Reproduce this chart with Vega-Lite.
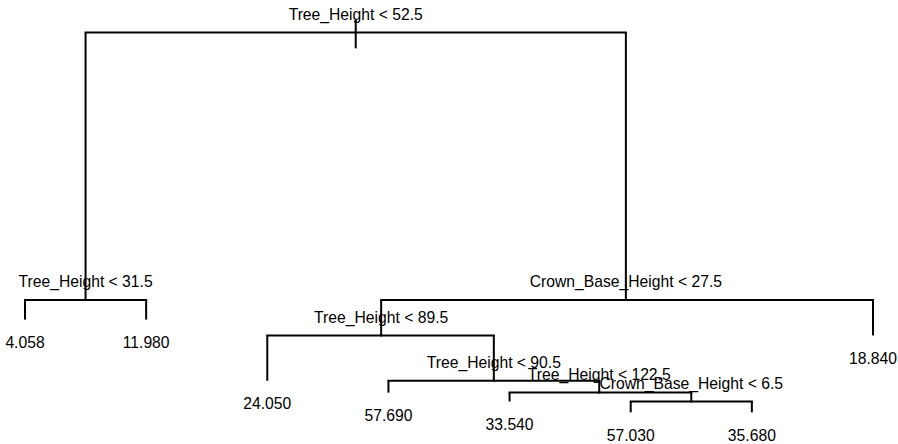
{
  "$schema": "https://vega.github.io/schema/vega-lite/v6.json",
  "width": 898,
  "height": 444,
  "padding": 0,
  "autosize": {"type": "fit", "contains": "padding"},
  "background": "white",
  "config": {"view": {"stroke": null}},
  "data": {"values": [
    {"node": "root", "kind": "split", "label": "Tree_Height < 52.5", "x": 3.73, "dev": 395, "px": 3.73, "pdev": 423, "level": 411},
    {"node": "n2", "kind": "split", "label": "Tree_Height < 31.5", "x": 1.5, "dev": 140, "px": 3.73, "pdev": 411, "level": 140},
    {"node": "n3", "kind": "split", "label": "Crown_Base_Height < 27.5", "x": 5.96, "dev": 140, "px": 3.73, "pdev": 411, "level": 140},
    {"node": "L1", "kind": "leaf", "label": "4.058", "x": 1, "dev": 120, "px": 1.5, "pdev": 140, "level": 120},
    {"node": "L2", "kind": "leaf", "label": "11.980", "x": 2, "dev": 120, "px": 1.5, "pdev": 140, "level": 120},
    {"node": "n6", "kind": "split", "label": "Tree_Height < 89.5", "x": 3.94, "dev": 104, "px": 5.96, "pdev": 140, "level": 104},
    {"node": "L8", "kind": "leaf", "label": "18.840", "x": 8, "dev": 104, "px": 5.96, "pdev": 140, "level": 104},
    {"node": "L3", "kind": "leaf", "label": "24.050", "x": 3, "dev": 58, "px": 3.94, "pdev": 104, "level": 58},
    {"node": "n13", "kind": "split", "label": "Tree_Height < 90.5", "x": 4.87, "dev": 58, "px": 3.94, "pdev": 104, "level": 58},
    {"node": "L4", "kind": "leaf", "label": "57.690", "x": 4, "dev": 46, "px": 4.87, "pdev": 58, "level": 46},
    {"node": "n27", "kind": "split", "label": "Tree_Height < 122.5", "x": 5.74, "dev": 46, "px": 4.87, "pdev": 58, "level": 46},
    {"node": "L5", "kind": "leaf", "label": "33.540", "x": 5, "dev": 37, "px": 5.74, "pdev": 46, "level": 37},
    {"node": "n55", "kind": "split", "label": "Crown_Base_Height < 6.5", "x": 6.5, "dev": 37, "px": 5.74, "pdev": 46, "level": 37},
    {"node": "L6", "kind": "leaf", "label": "57.030", "x": 6, "dev": 26, "px": 6.5, "pdev": 37, "level": 26},
    {"node": "L7", "kind": "leaf", "label": "35.680", "x": 7, "dev": 26, "px": 6.5, "pdev": 37, "level": 26}
  ]},
  "layer": [
    {
      "mark": {"type": "rule", "color": "black", "strokeWidth": 2, "strokeCap": "square"},
      "encoding": {
        "x": {"field": "px", "type": "quantitative", "scale": {"domain": [0.7936, 8.2064], "nice": false, "zero": false}, "axis": null},
        "x2": {"field": "x"},
        "y": {"field": "pdev", "type": "quantitative", "scale": {"domain": [0, 444], "nice": false, "zero": false}, "axis": null}
      }
    },
    {
      "mark": {"type": "rule", "color": "black", "strokeWidth": 2},
      "encoding": {
        "x": {"field": "x", "type": "quantitative"},
        "y": {"field": "pdev", "type": "quantitative"},
        "y2": {"field": "dev"}
      }
    },
    {
      "transform": [{"filter": "datum.kind == 'split'"}],
      "mark": {"type": "text", "font": "Liberation Sans", "fontSize": 15.7, "color": "black", "baseline": "middle", "align": "center", "dy": -17.5},
      "encoding": {
        "x": {"field": "x", "type": "quantitative"},
        "y": {"field": "level", "type": "quantitative"},
        "text": {"field": "label"}
      }
    },
    {
      "transform": [{"filter": "datum.kind == 'leaf'"}],
      "mark": {"type": "text", "font": "Liberation Sans", "fontSize": 15.7, "color": "black", "baseline": "middle", "align": "center", "dy": 23.5},
      "encoding": {
        "x": {"field": "x", "type": "quantitative"},
        "y": {"field": "dev", "type": "quantitative"},
        "text": {"field": "label"}
      }
    }
  ]
}
